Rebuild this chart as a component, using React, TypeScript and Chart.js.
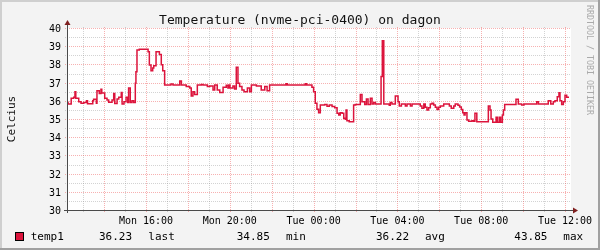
import React, { useEffect, useRef } from "react";
import { Chart, registerables } from "chart.js";
Chart.register(...registerables);

const TITLE = "Temperature (nvme-pci-0400) on dagon";
const Y_TITLE = "Celcius";
const WATERMARK = "RRDTOOL / TOBI OETIKER";
const SERIES_NAME = "temp1";
const SERIES_COLOR = "#dc143c";

// hours since Mon 12:00
const X_MIN = 0.23;
const X_MAX = 24.19;
const Y_MIN = 30;
const Y_MAX = 40;

const X_TICK_HOURS = [4, 8, 12, 16, 20, 24];
const X_TICK_LABELS = ["Mon 16:00", "Mon 20:00", "Tue 00:00", "Tue 04:00", "Tue 08:00", "Tue 12:00"];
const Y_TICKS = [30, 31, 32, 33, 34, 35, 36, 37, 38, 39, 40];

const STAT_VALUES = ["36.23", "34.85", "36.22", "43.85"];
const STAT_NAMES = ["last", "min", "avg", "max"];

const times = [
  0.23, 0.28, 0.43, 0.55, 0.61, 0.65, 0.79, 0.90, 1.03, 1.16, 1.21, 1.46, 1.50, 1.63, 1.66, 1.77, 1.85, 1.89,
  2.03, 2.14, 2.22, 2.38, 2.46, 2.51, 2.62, 2.70, 2.82, 2.86, 2.95, 3.05, 3.13, 3.17, 3.25, 3.33, 3.41, 3.49,
  3.52, 3.57, 3.68, 4.10, 4.16, 4.24, 4.32, 4.37, 4.48, 4.64, 4.73, 4.80, 4.89, 5.19, 5.29, 5.61, 5.69, 5.92,
  6.09, 6.16, 6.24, 6.32, 6.45, 6.64, 6.72, 6.93, 7.04, 7.20, 7.28, 7.40, 7.52, 7.68, 7.83, 7.91, 7.96, 8.01,
  8.15, 8.23, 8.31, 8.39, 8.47, 8.58, 8.68, 8.84, 8.95, 9.03, 9.27, 9.50, 9.67, 9.78, 9.90, 10.68, 10.75,
  11.60, 11.67, 11.92, 12.00, 12.08, 12.16, 12.24, 12.32, 12.53, 12.64, 12.75, 12.88, 13.01, 13.12, 13.20,
  13.27, 13.36, 13.44, 13.51, 13.55, 13.59, 13.70, 13.91, 13.99, 14.23, 14.31, 14.44, 14.52, 14.60, 14.71,
  14.79, 14.87, 14.95, 15.22, 15.28, 15.35, 15.61, 15.66, 15.74, 15.90, 16.03, 16.09, 16.19, 16.38, 16.46,
  16.62, 16.70, 17.09, 17.17, 17.26, 17.33, 17.41, 17.49, 17.57, 17.65, 17.73, 17.81, 17.89, 17.97, 18.05,
  18.21, 18.48, 18.57, 18.69, 18.76, 18.89, 18.97, 19.05, 19.12, 19.18, 19.23, 19.32, 19.40, 19.56, 19.64,
  19.70, 19.79, 20.34, 20.42, 20.47, 20.55, 20.71, 20.77, 20.86, 20.93, 21.01, 21.06, 21.12, 21.66, 21.77,
  21.93, 22.04, 22.65, 22.73, 23.20, 23.32, 23.44, 23.52, 23.63, 23.71, 23.76, 23.84, 23.92, 24.00, 24.08,
  24.19,
];

const temps = [
  35.92, 35.82, 36.14, 36.2, 36.5, 36.14, 35.95, 35.86, 35.9, 36.0, 35.84, 36.0, 36.08, 35.86, 36.55, 36.4, 36.63, 36.43,
  36.14, 36.05, 35.92, 36.05, 36.4, 35.85, 36.1, 36.2, 36.45, 35.82, 35.95, 36.2, 35.9, 36.7, 35.9, 36.0, 35.9, 36.96,
  37.6, 38.79, 38.83, 38.7, 37.97, 37.65, 37.8, 37.93, 38.7, 38.55, 37.98, 37.65, 36.87, 36.92, 36.87, 37.09, 36.87, 36.78,
  36.7, 36.26, 36.5, 36.35, 36.87, 36.9, 36.87, 36.78, 36.82, 36.6, 36.87, 36.6, 36.45, 36.75, 36.85, 36.7, 36.87, 36.7,
  36.82, 36.65, 37.84, 36.96, 36.78, 36.6, 36.5, 36.7, 36.5, 36.87, 36.82, 36.6, 36.78, 36.55, 36.87, 36.93, 36.87,
  36.93, 36.87, 36.74, 36.5, 35.86, 35.53, 35.35, 35.77, 35.8, 35.7, 35.77, 35.68, 35.62, 35.31, 35.22,
  35.35, 35.31, 35.04, 34.98, 35.5, 34.9, 34.85, 35.77, 35.8, 36.35, 35.95, 35.8, 36.1, 35.8, 36.14,
  35.82, 35.9, 35.82, 37.33, 39.3, 35.82, 35.75, 35.9, 35.82, 36.26, 35.95, 35.71, 35.82, 35.71, 35.82,
  35.71, 35.82, 35.71, 35.59, 35.82, 35.64, 35.5, 35.62, 35.82, 35.86, 35.77, 35.64, 35.52, 35.64, 35.71,
  35.82, 35.71, 35.59, 35.71, 35.82, 35.75, 35.66, 35.52, 35.35, 35.22, 35.35, 34.95, 34.87, 34.9, 34.87,
  35.31, 34.85, 35.71, 35.5, 35.0, 34.82, 35.1, 34.82, 35.1, 34.82, 35.22, 35.5, 35.8, 36.08, 35.82,
  35.77, 35.82, 35.95, 35.82, 36.0, 35.82, 35.95, 36.0, 36.22, 36.44, 36.0, 35.8, 35.95, 36.3, 36.19,
  36.19,
];

const MONO = '"DejaVu Sans Mono", "Liberation Mono", monospace';

const rrdPlugin = {
  id: "rrdDecor",
  beforeDraw(chart: any) {
    const { ctx, width, height, chartArea: a } = chart;
    ctx.save();
    ctx.fillStyle = "#f3f3f3";
    ctx.fillRect(0, 0, width, height);
    ctx.fillStyle = "#cfcfcf";
    ctx.fillRect(0, 0, width, 2);
    ctx.fillRect(0, 0, 2, height);
    ctx.fillStyle = "#a0a0a0";
    ctx.fillRect(0, height - 2, width, 2);
    ctx.fillRect(width - 2, 0, 2, height);
    ctx.fillStyle = "#ffffff";
    ctx.fillRect(a.left, a.top, a.right - a.left + 2, a.bottom - a.top);
    ctx.restore();
  },
  beforeDatasetsDraw(chart: any) {
    const { ctx, chartArea: a } = chart;
    const xs = chart.scales.x;
    const ys = chart.scales.y;
    ctx.save();
    ctx.lineWidth = 1;
    ctx.setLineDash([1, 1]);
    const minorH: number[] = [];
    const majorH: number[] = [];
    for (let v = Y_MIN; v <= Y_MAX + 1e-6; v += 0.5) {
      if (Math.abs(v - Math.round(v)) < 1e-6) majorH.push(v);
      else minorH.push(v);
    }
    const minorV: number[] = [];
    const majorV: number[] = [];
    for (let h = Math.ceil(X_MIN); h <= X_MAX; h += 1) {
      if (h % 2 === 0) majorV.push(h);
      else minorV.push(h);
    }
    const drawH = (vals: number[], color: string) => {
      ctx.strokeStyle = color;
      ctx.beginPath();
      for (const v of vals) {
        const y = Math.round(ys.getPixelForValue(v)) + 0.5;
        ctx.moveTo(a.left - 2, y);
        ctx.lineTo(a.right + 2, y);
      }
      ctx.stroke();
    };
    const drawV = (vals: number[], color: string) => {
      ctx.strokeStyle = color;
      ctx.beginPath();
      for (const h of vals) {
        const x = Math.round(xs.getPixelForValue(h)) + 0.5;
        ctx.moveTo(x, a.bottom + 2);
        ctx.lineTo(x, a.top - 2);
      }
      ctx.stroke();
    };
    drawH(minorH, "rgba(140,140,140,0.38)");
    drawV(minorV, "rgba(140,140,140,0.38)");
    drawH(majorH, "rgba(235,70,70,0.42)");
    drawV(majorV, "rgba(235,70,70,0.42)");
    ctx.restore();
  },
  afterDatasetsDraw(chart: any) {
    const { ctx, chartArea: a, width } = chart;
    const xs = chart.scales.x;
    const ys = chart.scales.y;
    ctx.save();
    const ax = Math.round(a.left) + 0.5;
    const ay = Math.round(a.bottom) + 0.5;
    ctx.strokeStyle = "#4a4a4a";
    ctx.lineWidth = 1;
    ctx.beginPath();
    ctx.moveTo(ax, a.bottom + 3);
    ctx.lineTo(ax, a.top - 4);
    ctx.moveTo(a.left - 3, ay);
    ctx.lineTo(a.right + 4, ay);
    ctx.stroke();
    ctx.fillStyle = "#7f1f1f";
    ctx.beginPath();
    ctx.moveTo(ax - 3, a.top - 3);
    ctx.lineTo(ax + 3, a.top - 3);
    ctx.lineTo(ax, a.top - 8);
    ctx.closePath();
    ctx.fill();
    ctx.beginPath();
    ctx.moveTo(a.right + 4, ay - 3);
    ctx.lineTo(a.right + 4, ay + 3);
    ctx.lineTo(a.right + 9, ay);
    ctx.closePath();
    ctx.fill();

    ctx.fillStyle = "#000";
    ctx.font = `10px ${MONO}`;
    ctx.textAlign = "right";
    ctx.textBaseline = "alphabetic";
    for (const v of Y_TICKS) {
      ctx.fillText(String(v), a.left - 6, Math.round(ys.getPixelForValue(v)) + 4);
    }
    ctx.textAlign = "center";
    X_TICK_HOURS.forEach((h, i) => {
      ctx.fillText(X_TICK_LABELS[i], xs.getPixelForValue(h), a.bottom + 13.5);
    });

    ctx.font = `13px ${MONO}`;
    ctx.textAlign = "center";
    ctx.fillStyle = "#111";
    ctx.fillText(TITLE, width / 2, 23.5);

    ctx.save();
    ctx.font = `11px ${MONO}`;
    ctx.translate(15, (a.top + a.bottom) / 2);
    ctx.rotate(-Math.PI / 2);
    ctx.textAlign = "center";
    ctx.fillText(Y_TITLE, 0, 0);
    ctx.restore();

    ctx.save();
    ctx.font = `8.3px ${MONO}`;
    ctx.fillStyle = "#aaaaaa";
    ctx.translate(587, 5);
    ctx.rotate(Math.PI / 2);
    ctx.textAlign = "left";
    ctx.fillText(WATERMARK, 0, 0);
    ctx.restore();

    ctx.fillStyle = SERIES_COLOR;
    ctx.fillRect(15, 232, 9, 9);
    ctx.strokeStyle = "#000";
    ctx.lineWidth = 1;
    ctx.strokeRect(15.5, 232.5, 8, 8);
    ctx.fillStyle = "#000";
    ctx.font = `11px ${MONO}`;
    ctx.textAlign = "left";
    ctx.fillText(SERIES_NAME, 30.7, 240);
    const valX = [99, 236.7, 376, 514.3];
    const nameX = [148.3, 286, 425, 563.3];
    STAT_VALUES.forEach((s, i) => {
      ctx.fillText(s, valX[i], 240);
      ctx.fillText(STAT_NAMES[i], nameX[i], 240);
    });
    ctx.restore();
  },
};

export default function App() {
  const ref = useRef<HTMLCanvasElement>(null);
  useEffect(() => {
    if (!ref.current) return;
    const points = times.map((t, i) => ({ x: t, y: temps[i] }));
    const chart = new Chart(ref.current, {
      type: "line",
      data: {
        datasets: [
          {
            label: SERIES_NAME,
            data: points,
            borderColor: SERIES_COLOR,
            borderWidth: 1.5,
            pointRadius: 0,
            stepped: true,
            fill: false,
            tension: 0,
          },
        ],
      },
      options: {
        responsive: false,
        animation: false,
        devicePixelRatio: 1,
        layout: { padding: { left: 67, top: 28, right: 31, bottom: 40 } },
        plugins: { legend: { display: false }, title: { display: false }, tooltip: { enabled: false } },
        scales: {
          x: { type: "linear", min: X_MIN, max: X_MAX, display: false },
          y: { type: "linear", min: Y_MIN, max: Y_MAX, display: false },
        },
      },
      plugins: [rrdPlugin],
    });
    return () => chart.destroy();
  }, []);
  return (
    <div style={{ position: "fixed", left: 0, top: 0, width: 600, height: 250 }}>
      <canvas ref={ref} width={600} height={250} style={{ display: "block" }} />
    </div>
  );
}
